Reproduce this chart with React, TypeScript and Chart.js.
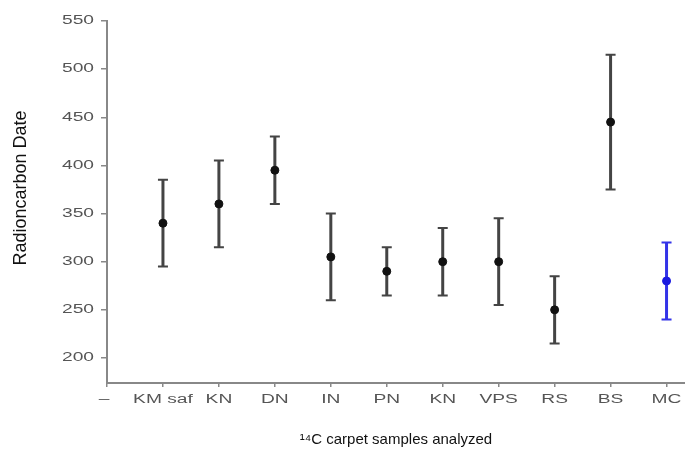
import React, { useEffect, useRef } from "react";
import { Chart, registerables } from "chart.js";

Chart.register(...registerables);

const tickLabels = ["–", "KM saf", "KN", "DN", "IN", "PN", "KN", "VPS", "RS", "BS", "MC"];
const samplePositions = [1, 2, 3, 4, 5, 6, 7, 8, 9, 10];
const dates = [340, 360, 395, 305, 290, 300, 300, 250, 445, 280];
const lows = [295, 315, 360, 260, 265, 265, 255, 215, 375, 240];
const highs = [385, 405, 430, 350, 315, 335, 345, 285, 515, 320];
const colors = ["#111", "#111", "#111", "#111", "#111", "#111", "#111", "#111", "#111", "#1a1ae0"];
const barColors = ["#444", "#444", "#444", "#444", "#444", "#444", "#444", "#444", "#444", "#3333e8"];
const yTicks = [200, 250, 300, 350, 400, 450, 500, 550];
const yTitle = "Radioncarbon Date";
const xTitle = "¹⁴C carpet samples analyzed";

const FONT = "12px 'Liberation Sans', Arial, sans-serif";
const STRETCH = 1.6;

const errorBarPlugin = {
  id: "errorBars",
  beforeDatasetsDraw(chart: any) {
    const { ctx, scales } = chart;
    const x = scales.x;
    const y = scales.y;
    ctx.save();
    samplePositions.forEach((p, i) => {
      const px = x.getPixelForValue(p);
      const pl = y.getPixelForValue(lows[i]);
      const ph = y.getPixelForValue(highs[i]);
      ctx.strokeStyle = barColors[i];
      ctx.lineWidth = 3;
      ctx.beginPath();
      ctx.moveTo(px, pl);
      ctx.lineTo(px, ph);
      ctx.stroke();
      ctx.lineWidth = 2;
      ctx.beginPath();
      ctx.moveTo(px - 5, pl);
      ctx.lineTo(px + 5, pl);
      ctx.moveTo(px - 5, ph);
      ctx.lineTo(px + 5, ph);
      ctx.stroke();
    });
    ctx.restore();
  },
};

const textPlugin = {
  id: "stretchedTicks",
  afterDraw(chart: any) {
    const { ctx, scales } = chart;
    const x = scales.x;
    const y = scales.y;
    ctx.save();
    ctx.font = FONT;
    ctx.fillStyle = "#555";
    ctx.textBaseline = "middle";
    ctx.textAlign = "right";
    yTicks.forEach((v) => {
      const py = y.getPixelForValue(v);
      ctx.save();
      ctx.translate(94, py);
      ctx.scale(STRETCH, 1);
      ctx.fillText(String(v), 0, 0);
      ctx.restore();
    });
    ctx.textAlign = "center";
    tickLabels.forEach((lab, i) => {
      const px = x.getPixelForValue(i);
      ctx.save();
      ctx.translate(i === 0 ? px - 3 : px, x.top + 17);
      ctx.scale(STRETCH, 1);
      ctx.fillText(lab, 0, 0);
      ctx.restore();
    });
    // y axis title
    ctx.save();
    ctx.font = "18px 'Liberation Sans', Arial, sans-serif";
    ctx.fillStyle = "#111";
    ctx.translate(21, 188);
    ctx.rotate(-Math.PI / 2);
    ctx.fillText(yTitle, 0, 0);
    ctx.restore();
    ctx.restore();
  },
};

export default function App() {
  const ref = useRef<HTMLCanvasElement>(null);
  useEffect(() => {
    if (!ref.current) return;
    const chart = new Chart(ref.current, {
      type: "scatter",
      data: {
        datasets: [
          {
            data: samplePositions.map((p, i) => ({ x: p, y: dates[i] })),
            backgroundColor: colors,
            borderColor: colors,
            pointRadius: 4,
            pointHoverRadius: 4,
          },
        ],
      },
      options: {
        animation: false,
        responsive: true,
        maintainAspectRatio: false,
        layout: { autoPadding: false, padding: { top: 21, right: 0, left: 0, bottom: 0 } },
        plugins: { legend: { display: false }, tooltip: { enabled: false } },
        scales: {
          x: {
            type: "linear",
            min: 0,
            max: 10.33,
            afterBuildTicks: (s: any) => {
              s.ticks = tickLabels.map((_, i) => ({ value: i }));
            },
            afterFit: (s: any) => {
              s.height = 72;
            },
            ticks: { display: false },
            grid: { display: true, drawOnChartArea: false, drawTicks: true, tickLength: 4, color: "#888", lineWidth: 1.5 },
            border: { display: true, color: "#888", width: 2 },
            title: {
              display: true,
              text: xTitle,
              color: "#111",
              font: { family: "Liberation Sans, Arial", size: 15 },
              padding: { top: 4, bottom: 6 },
            },
          },
          y: {
            type: "linear",
            min: 174,
            max: 550,
            afterBuildTicks: (s: any) => {
              s.ticks = yTicks.map((v) => ({ value: v }));
            },
            afterFit: (s: any) => {
              s.width = 107;
            },
            ticks: { display: false },
            grid: { display: true, drawOnChartArea: false, drawTicks: true, tickLength: 6, color: "#888", lineWidth: 1.5 },
            border: { display: true, color: "#888", width: 2 },
            title: { display: false },
          },
        },
      },
      plugins: [errorBarPlugin, textPlugin],
    });
    return () => chart.destroy();
  }, []);
  return (
    <div style={{ position: "absolute", left: 0, top: 0, width: 685, height: 455, background: "#fff" }}>
      <canvas ref={ref} />
    </div>
  );
}
